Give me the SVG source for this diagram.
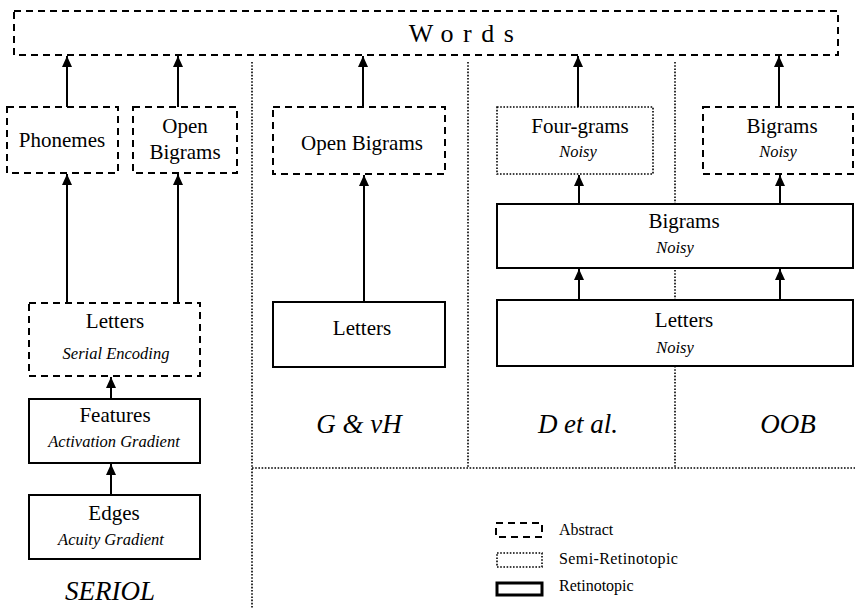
<svg xmlns="http://www.w3.org/2000/svg" width="855" height="608" viewBox="0 0 855 608">
<defs>
<marker id="ah" markerUnits="userSpaceOnUse" markerWidth="11" markerHeight="10" refX="11" refY="5" orient="auto" viewBox="0 0 11 10">
<path d="M0,0 L11,5 L0,10 z" fill="#000"/>
</marker>
<style>
.abs{fill:#fff;stroke:#000;stroke-width:2;stroke-dasharray:7 5}
.semi{fill:#fff;stroke:#000;stroke-width:1.6;stroke-dasharray:1.6 1.6}
.ret{fill:#fff;stroke:#000;stroke-width:2}
.sep{fill:none;stroke:#000;stroke-width:1.6;stroke-dasharray:1.6 1.6}
.arr{fill:none;stroke:#000;stroke-width:2;marker-end:url(#ah)}
text{font-family:'Liberation Serif',Tinos,'Times New Roman',Times,'DejaVu Serif',serif}
.t{font-size:21px;fill:#000;text-anchor:middle}
.s{font-size:16.5px;font-style:italic;fill:#000;text-anchor:middle}
.m{font-size:27px;font-style:italic;fill:#000;text-anchor:middle}
.l{font-size:16px;fill:#000}
</style>
</defs>
<g id="separators">
<line class="sep" x1="252" y1="62" x2="252" y2="608"/>
<line class="sep" x1="468" y1="62" x2="468" y2="468"/>
<line class="sep" x1="675" y1="62" x2="675" y2="468"/>
<line class="sep" x1="252" y1="468" x2="855" y2="468"/>
</g>
<g id="connectors">
<line class="arr" x1="67" y1="107" x2="67" y2="56"/>
<line class="arr" x1="178" y1="107" x2="178" y2="56"/>
<line class="arr" x1="363" y1="107" x2="363" y2="56"/>
<line class="arr" x1="578" y1="107" x2="578" y2="56"/>
<line class="arr" x1="779" y1="107" x2="779" y2="56"/>
<line class="arr" x1="67" y1="303" x2="67" y2="174"/>
<line class="arr" x1="178" y1="303" x2="178" y2="174"/>
<line class="arr" x1="111" y1="399" x2="111" y2="377"/>
<line class="arr" x1="111" y1="495" x2="111" y2="464"/>
<line class="arr" x1="364" y1="302" x2="364" y2="175"/>
<line class="arr" x1="579" y1="204" x2="579" y2="175"/>
<line class="arr" x1="780" y1="204" x2="780" y2="175"/>
<line class="arr" x1="579" y1="300" x2="579" y2="269"/>
<line class="arr" x1="780" y1="300" x2="780" y2="269"/>
</g>
<g id="words">
<rect class="abs" x="14" y="11" width="824" height="44"/>
<text class="t" x="466" y="42" style="font-size:26px;letter-spacing:9.5px">Words</text>
</g>
<g id="phonemes">
<rect class="abs" x="7" y="107" width="111" height="66"/>
<text class="t" x="62" y="147">Phonemes</text>
</g>
<g id="open-bigrams-seriol">
<rect class="abs" x="133" y="107" width="104" height="66"/>
<text class="t" x="185" y="133">Open</text>
<text class="t" x="185" y="159">Bigrams</text>
</g>
<g id="letters-seriol">
<rect class="abs" x="29" y="303" width="171" height="73"/>
<text class="t" x="115" y="328">Letters</text>
<text class="s" x="116" y="359">Serial Encoding</text>
</g>
<g id="features">
<rect class="ret" x="29" y="399" width="171" height="64"/>
<text class="t" x="115" y="422">Features</text>
<text class="s" x="114" y="447">Activation Gradient</text>
</g>
<g id="edges">
<rect class="ret" x="29" y="495" width="171" height="64"/>
<text class="t" x="114" y="520">Edges</text>
<text class="s" x="111" y="545">Acuity Gradient</text>
</g>
<g id="label-seriol">
<text class="m" x="110" y="600">SERIOL</text>
</g>
<g id="open-bigrams-gvh">
<rect class="abs" x="273" y="107" width="172" height="67"/>
<text class="t" x="362" y="150">Open Bigrams</text>
</g>
<g id="letters-gvh">
<rect class="ret" x="273" y="302" width="172" height="65"/>
<text class="t" x="362" y="335">Letters</text>
</g>
<g id="label-gvh">
<text class="m" x="359" y="433">G &amp; vH</text>
</g>
<g id="four-grams">
<rect class="semi" x="497" y="107" width="156" height="67"/>
<text class="t" x="580" y="133">Four-grams</text>
<text class="s" x="578" y="157">Noisy</text>
</g>
<g id="bigrams-oob">
<rect class="abs" x="703" y="107" width="150" height="67"/>
<text class="t" x="782" y="133">Bigrams</text>
<text class="s" x="778" y="157">Noisy</text>
</g>
<g id="bigrams-shared">
<rect class="ret" x="497" y="204" width="356" height="64"/>
<text class="t" x="684" y="228">Bigrams</text>
<text class="s" x="675" y="253">Noisy</text>
</g>
<g id="letters-shared">
<rect class="ret" x="497" y="300" width="356" height="66"/>
<text class="t" x="684" y="327">Letters</text>
<text class="s" x="675" y="353">Noisy</text>
</g>
<g id="label-det">
<text class="m" x="578" y="433">D et al.</text>
</g>
<g id="label-oob">
<text class="m" x="788" y="433">OOB</text>
</g>
<g id="legend">
<rect class="abs" x="496" y="523" width="46" height="14"/>
<text class="l" x="559" y="535">Abstract</text>
<rect class="semi" x="497" y="553" width="45" height="14"/>
<text class="l" x="559" y="564" style="letter-spacing:0.4px">Semi-Retinotopic</text>
<rect class="ret" x="497" y="583" width="45" height="12" style="stroke-width:3"/>
<text class="l" x="559" y="591">Retinotopic</text>
</g>
</svg>
